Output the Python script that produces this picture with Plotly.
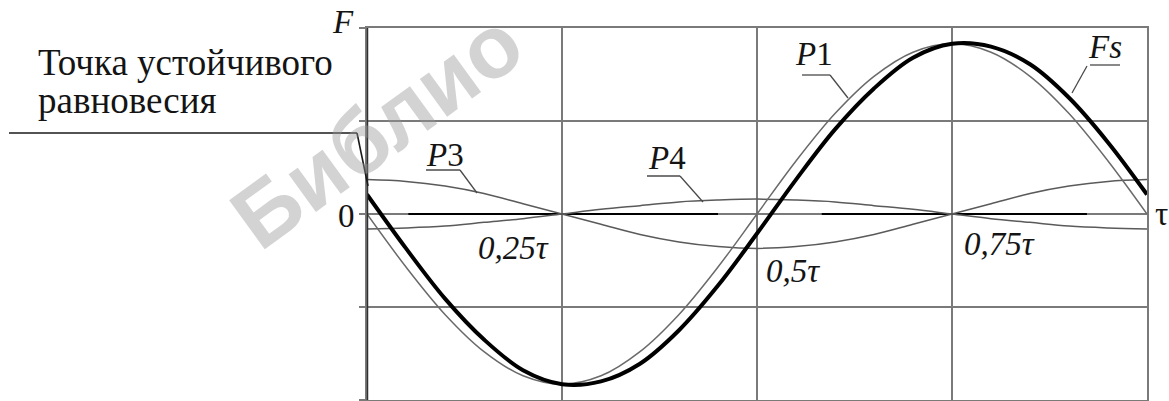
import plotly.graph_objects as go

# Time axis in fractions of the period τ
t = [0.00, 0.05, 0.10, 0.15, 0.20, 0.25, 0.30, 0.35, 0.40, 0.45, 0.50,
     0.55, 0.60, 0.65, 0.70, 0.75, 0.80, 0.85, 0.90, 0.95, 1.00]

# Harmonic components of the force
p1 = [0.00, -0.57, -1.08, -1.48, -1.74, -1.83, -1.74, -1.48, -1.08, -0.57, 0.00,
      0.57, 1.08, 1.48, 1.74, 1.83, 1.74, 1.48, 1.08, 0.57, 0.00]
p3 = [0.37, 0.35, 0.30, 0.22, 0.11, 0.00, -0.11, -0.22, -0.30, -0.35, -0.37,
      -0.35, -0.30, -0.22, -0.11, 0.00, 0.11, 0.22, 0.30, 0.35, 0.37]
p4 = [-0.16, -0.15, -0.13, -0.09, -0.05, 0.00, 0.05, 0.09, 0.13, 0.15, 0.16,
      0.15, 0.13, 0.09, 0.05, 0.00, -0.05, -0.09, -0.13, -0.15, -0.16]
# Resulting force
fs = [0.21, -0.37, -0.91, -1.35, -1.68, -1.83, -1.80, -1.61, -1.25, -0.77, -0.21,
      0.37, 0.91, 1.35, 1.68, 1.83, 1.80, 1.61, 1.25, 0.77, 0.21]

# Zero-level reference segments
zero_t = [0.053, 0.450, None, 0.583, 0.923]
zero_v = [0, 0, None, 0, 0]

W, H = 1169, 401
SERIF = "Liberation Serif"
INK = "#141414"
GRID = "#7a7a7a"
THIN = "#5a5a5a"


def px(x):
    return x / W


def py(y):
    return (H - y) / H


fig = go.Figure()

# faint library stamp behind the drawing
fig.add_annotation(xref="paper", yref="paper", x=px(376), y=py(130), text="<b>Библио</b>",
                   showarrow=False, xanchor="center", yanchor="middle", textangle=-36,
                   font=dict(family="Liberation Sans", size=88, color="rgba(150,150,150,0.42)"))

fig.add_trace(go.Scatter(x=zero_t, y=zero_v, mode="lines",
                         line=dict(color="#000000", width=1.8), hoverinfo="skip"))
fig.add_trace(go.Scatter(x=t, y=p3, mode="lines", line=dict(color=THIN, width=1.5, shape="spline")))
fig.add_trace(go.Scatter(x=t, y=p4, mode="lines", line=dict(color=THIN, width=1.5, shape="spline")))
fig.add_trace(go.Scatter(x=t, y=p1, mode="lines", line=dict(color="#6a6a6a", width=1.5, shape="spline")))
fig.add_trace(go.Scatter(x=t, y=fs, mode="lines", line=dict(color="#000000", width=4, shape="spline")))

fig.update_layout(
    width=W, height=H,
    margin=dict(l=0, r=0, t=0, b=0),
    paper_bgcolor="white", plot_bgcolor="white",
    showlegend=False,
    font=dict(family=SERIF),
    xaxis=dict(domain=[px(367), px(1147)], range=[0, 1], dtick=0.25, tick0=0,
               showgrid=True, gridcolor=GRID, gridwidth=1.5, zeroline=False,
               showline=True, linecolor=GRID, linewidth=1.5, mirror=True,
               showticklabels=False, ticks=""),
    yaxis=dict(domain=[py(400), py(28)], range=[-2, 2], dtick=1, tick0=0,
               showgrid=True, gridcolor=GRID, gridwidth=1.5, zeroline=False,
               showline=True, linecolor=GRID, linewidth=1.5, mirror=True,
               showticklabels=False, ticks="outside", ticklen=6, tickcolor=GRID, tickwidth=1.5),
)

shapes = []
# dark vertical force axis
shapes.append(dict(type="line", xref="paper", yref="paper",
                   x0=px(367.5), x1=px(367.5), y0=py(28), y1=py(400),
                   line=dict(color="#303030", width=1.5)))


def leader(points, width=1.3, color="#4a4a4a"):
    for (xa, ya), (xb, yb) in zip(points[:-1], points[1:]):
        shapes.append(dict(type="line", xref="paper", yref="paper",
                           x0=px(xa), y0=py(ya), x1=px(xb), y1=py(yb),
                           line=dict(color=color, width=width)))


# equilibrium-point pointer
leader([(9, 133), (357, 133), (368, 186)], width=1.6, color="#1a1a1a")
# label pointers (underline + slanted tail)
leader([(426, 170), (460, 170), (477, 193)])
leader([(647, 176), (680, 176), (703, 202)])
leader([(802, 75), (830, 75), (848, 98)])
leader([(1090, 65), (1120, 65)])
leader([(1087, 66), (1072, 93)])

fig.update_layout(shapes=shapes)


def label(x, y, text, size=29, anchor="center"):
    fig.add_annotation(xref="paper", yref="paper", x=px(x), y=py(y), text=text,
                       showarrow=False, xanchor=anchor, yanchor="middle",
                       font=dict(family=SERIF, size=size, color=INK))


label(343, 22, "<i>F</i>", 33)
label(36, 63, "Точка устойчивого", 37, "left")
label(36, 100, "равновесия", 37, "left")
label(346, 216, "0", 33)
label(1161, 214, "τ", 33)
label(445, 155, "<i>P</i>3", 33)
label(667, 158, "<i>P</i>4", 33)
label(814, 54, "<i>P</i>1", 33)
label(1105, 47, "<i>Fs</i>", 33)
label(513, 248, "<i>0,25τ</i>", 33)
label(793, 271, "<i>0,5τ</i>", 33)
label(999, 244, "<i>0,75τ</i>", 33)

fig.write_html("out.html")
